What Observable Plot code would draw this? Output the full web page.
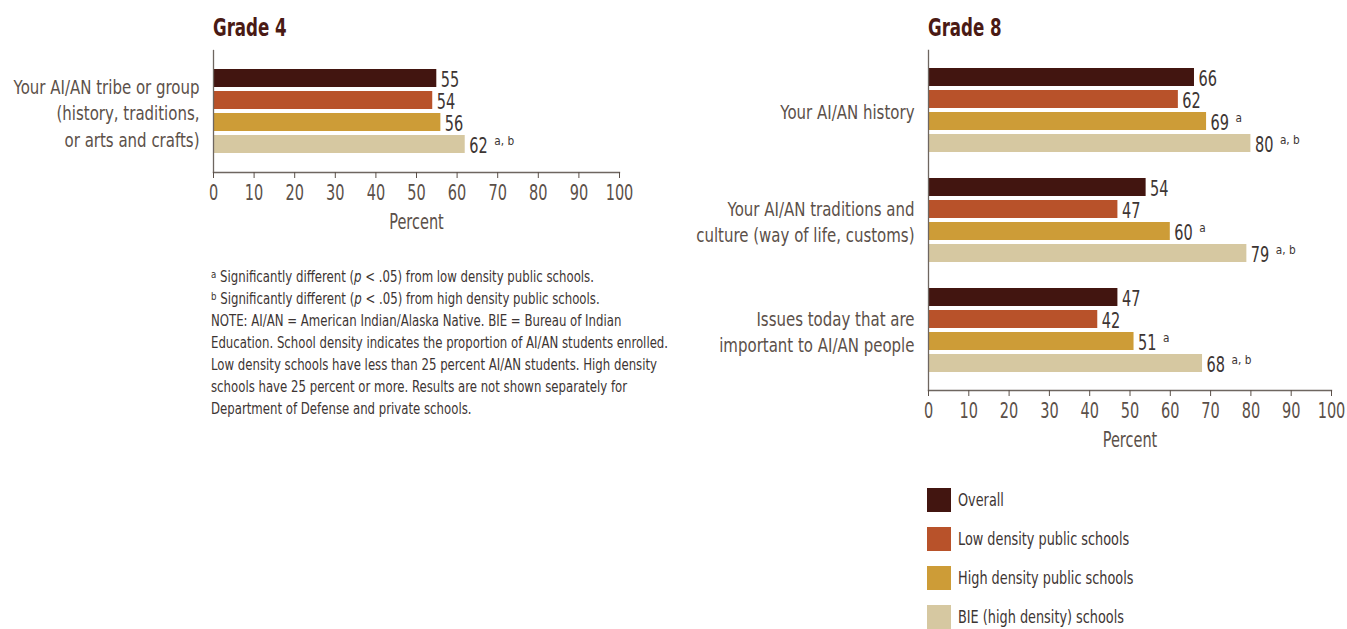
<!DOCTYPE html>
<html>
<head>
<meta charset="utf-8">
<script src="https://cdn.jsdelivr.net/npm/d3@7"></script>
<script src="https://cdn.jsdelivr.net/npm/@observablehq/plot@0.6"></script>
<style>
  html, body { margin: 0; padding: 0; background: #fff; }
  body { width: 1347px; height: 629px; position: relative; overflow: hidden;
         font-family: "DejaVu Sans", sans-serif; font-stretch: condensed; }
  .abs { position: absolute; }
  .title { font-weight: bold; font-size: 25px; color: #4a1a14; line-height: 1; transform: scaleX(0.74); transform-origin: 0 0; white-space: nowrap; }
  .notes { font-size: 15px; line-height: 22px; color: #3d3533; white-space: nowrap; transform: scaleX(0.87); transform-origin: 0 0; }
  .notes sup { font-size: 11px; vertical-align: 4px; line-height: 0; }
  .legend-item { position: absolute; left: 0; height: 24px; display: flex; align-items: center; font-size: 17px; color: #3d3533; white-space: nowrap; }
  .legend-item span { display: inline-block; transform: scaleX(0.84); transform-origin: 0 50%; }
  .sw { width: 24px; height: 24px; margin-right: 7px; flex: none; }
</style>
</head>
<body>
<div id="g4title" class="abs title" style="left:213px; top:15px;">Grade 4</div>
<div id="g8title" class="abs title" style="left:928px; top:15px;">Grade 8</div>
<div id="left" class="abs" style="left:0; top:0;"></div>
<div id="right" class="abs" style="left:680px; top:0;"></div>
<div id="notes" class="abs notes" style="left:211px; top:266px;"></div>
<div id="legend" class="abs" style="left:927px; top:488px;"></div>
<script>
// ---- Data ----
const series = ["Overall", "Low density public schools", "High density public schools", "BIE (high density) schools"];
const seriesColors = ["#421510", "#b8522a", "#cd9c37", "#d6c8a1"];

const grade4Categories = ["Your AI/AN tribe or group\n(history, traditions,\nor arts and crafts)"];
const grade4Values = [[55, 54, 56, 62]];
const grade4Sig = [["", "", "", "a, b"]];

const grade8Categories = [
  "Your AI/AN history",
  "Your AI/AN traditions and\nculture (way of life, customs)",
  "Issues today that are\nimportant to AI/AN people"
];
const grade8Values = [[66, 62, 69, 80], [54, 47, 60, 79], [47, 42, 51, 68]];
const grade8Sig = [["", "", "a", "a, b"], ["", "", "a", "a, b"], ["", "", "a", "a, b"]];

const xTicks = [0, 10, 20, 30, 40, 50, 60, 70, 80, 90, 100];
const xLabel = "Percent";

const noteLines = [
  ["a", "Significantly different (<i>p</i> &lt; .05) from low density public schools."],
  ["b", "Significantly different (<i>p</i> &lt; .05) from high density public schools."],
  ["", "NOTE: AI/AN = American Indian/Alaska Native. BIE = Bureau of Indian"],
  ["", "Education. School density indicates the proportion of AI/AN students enrolled."],
  ["", "Low density schools have less than 25 percent AI/AN students. High density"],
  ["", "schools have 25 percent or more. Results are not shown separately for"],
  ["", "Department of Defense and private schools."]
];

// ---- Styles ----
const axisColor = "#6e6660";
const labelColor = "#5b5049";
const numColor = "#3d3533";
const svgStyle = 'background: transparent; overflow: visible; max-width: none; font-family: "DejaVu Sans", sans-serif; font-stretch: normal;';
const NUM_SIZE = 22, SUP_SIZE = 12, CAT_SIZE = 20;
const squeezeBySize = {[NUM_SIZE]: 0.66, [SUP_SIZE]: 0.88, [CAT_SIZE]: 0.75};

// narrow the glyphs of SVG texts around their anchor (condensed look)
function squeezeText(t, sx) {
  const tr = t.getAttribute("transform");
  if (tr) t.setAttribute("transform", `${tr} scale(${sx},1)`);
  else {
    const x = +(t.getAttribute("x") || 0), y = +(t.getAttribute("y") || 0);
    t.removeAttribute("x"); t.removeAttribute("y");
    t.setAttribute("transform", `translate(${x},${y}) scale(${sx},1)`);
  }
}

function panel({cats, vals, sigs, width, height, marginTop, marginBottom, marginLeft, marginRight, step, paddingInner, paddingOuter}) {
  const rows = [];
  const domain = [];
  cats.forEach((c, ci) => {
    series.forEach((s, si) => {
      const key = `${ci}|${si}`;
      domain.push(key);
      rows.push({cat: c, ci, series: s, key, value: vals[ci][si], sig: sigs[ci][si]});
    });
    if (ci < cats.length - 1) domain.push(`gap${ci}`);
  });
  const svg = Plot.plot({
    width, height, marginTop, marginBottom, marginLeft, marginRight,
    style: svgStyle,
    x: {domain: [0, 100]},
    y: {type: "band", domain, paddingInner, paddingOuter, axis: null},
    color: {domain: series, range: seriesColors},
    marks: [
      Plot.barX(rows, {x: "value", y: "key", fill: "series"}),
      Plot.frame({anchor: "left", stroke: axisColor, strokeWidth: 1.3}),
      Plot.frame({anchor: "bottom", stroke: axisColor, strokeWidth: 1.3}),
      Plot.axisX({ticks: xTicks, tickSize: 6, tickPadding: 6, fontSize: NUM_SIZE, color: labelColor,
                  label: xLabel, labelAnchor: "center", labelOffset: 56, labelArrow: "none"}),
      // value labels
      Plot.text(rows, {x: "value", y: "key", text: d => String(d.value), dx: 4, dy: 1, textAnchor: "start",
                       fontSize: NUM_SIZE, fill: numColor}),
      // significance superscripts
      Plot.text(rows.filter(d => d.sig), {x: "value", y: "key", text: "sig", dx: 29, dy: -3,
                       textAnchor: "start", fontSize: SUP_SIZE, fill: numColor}),
      // category labels
      Plot.text(cats, {y: (d, i) => `${i}|1`, text: d => d, frameAnchor: "left", dx: -14, dy: step / 2,
                       textAnchor: "end", fontSize: CAT_SIZE, lineHeight: 1.32, fill: labelColor})
    ]
  });
  svg.querySelectorAll("text").forEach(t => {
    const g = t.closest("[font-size]");
    const fs = g ? parseFloat(g.getAttribute("font-size")) : NaN;
    const sx = squeezeBySize[fs];
    if (sx) squeezeText(t, sx);
  });
  return svg;
}

// Grade 4: frame x 213..619, y 50..172
document.getElementById("left").appendChild(panel({
  cats: grade4Categories, vals: grade4Values, sigs: grade4Sig,
  width: 680, height: 240, marginTop: 50, marginBottom: 68, marginLeft: 213, marginRight: 61,
  step: 22.5, paddingInner: 0.2, paddingOuter: 0.81
}));

// Grade 8: frame x 928..1331 (in right div at 680: 248..651), y 50..390
document.getElementById("right").appendChild(panel({
  cats: grade8Categories, vals: grade8Values, sigs: grade8Sig,
  width: 667, height: 470, marginTop: 50, marginBottom: 80, marginLeft: 248, marginRight: 16,
  step: 22, paddingInner: 0.18, paddingOuter: 0.817
}));

// Notes
document.getElementById("notes").innerHTML = noteLines
  .map(([sup, txt]) => `<div>${sup ? `<sup>${sup}</sup> ` : ""}${txt}</div>`).join("");

// Legend
const legend = document.getElementById("legend");
const legendTops = [0, 39, 78, 117];
series.forEach((s, i) => {
  const item = document.createElement("div");
  item.className = "legend-item";
  item.style.top = legendTops[i] + "px";
  item.innerHTML = `<div class="sw" style="background:${seriesColors[i]}"></div><span>${s}</span>`;
  legend.appendChild(item);
});
</script>
</body>
</html>
